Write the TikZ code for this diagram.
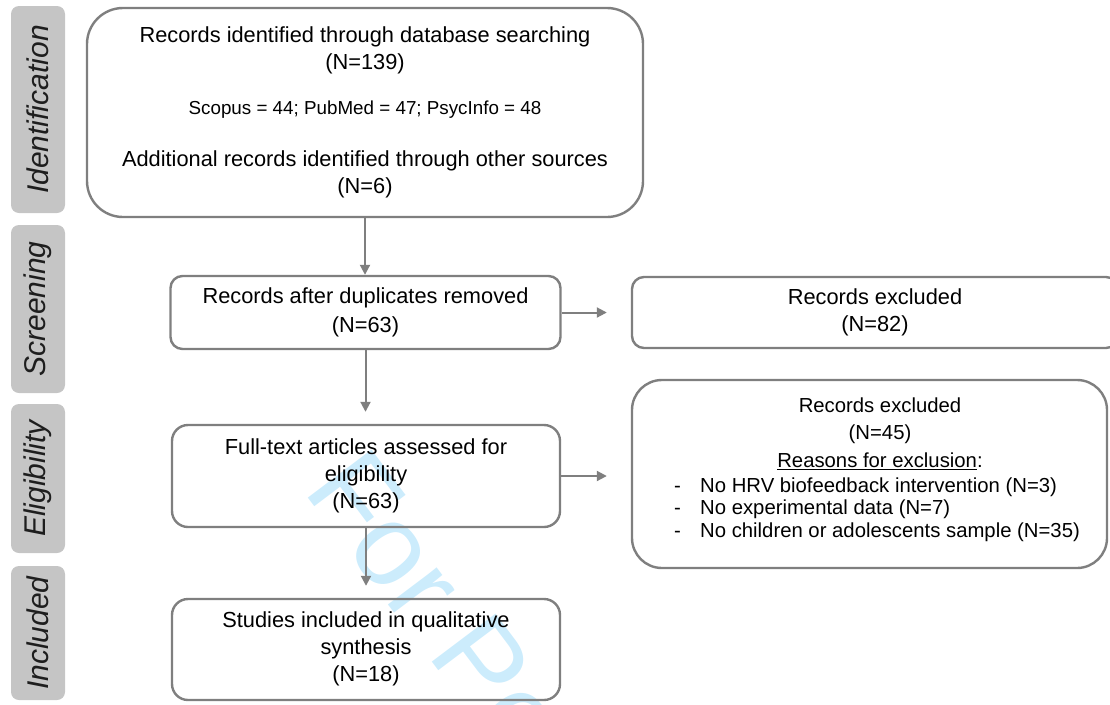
\documentclass[tikz,border=0pt]{standalone}
\usepackage{fontspec}
\setmainfont{Liberation Sans}
\usetikzlibrary{arrows.meta}
\definecolor{bordergray}{RGB}{127,127,127}
\definecolor{tabgray}{RGB}{197,197,197}
\definecolor{tabtext}{RGB}{30,30,30}
\definecolor{wmblue}{RGB}{204,236,252}
\newcommand{\mainsz}{\fontsize{21.8}{27}\selectfont}
\newcommand{\scopsz}{\fontsize{18.8}{27}\selectfont}
\newcommand{\hdrsz}{\fontsize{20.3}{27.5}\selectfont}
\newcommand{\lstsz}{\fontsize{20.3}{22.7}\selectfont}
\begin{document}
\begin{tikzpicture}[x=1pt,y=-1pt,
  box/.style={draw=bordergray, line width=2.4pt, rounded corners=#1, inner sep=0pt, align=center, font=\mainsz},
  tab/.style={fill=tabgray, draw=none, rounded corners=8pt, inner sep=0pt, rotate=90, minimum height=54pt, font=\fontsize{30}{36}\selectfont\itshape, text=tabtext},
  arr/.style={draw=bordergray, line width=2pt, -{Triangle[length=10pt,width=10pt]}}
]
\useasboundingbox (0,0) rectangle (1110,704);
\begin{scope}
\clip (0,0) rectangle (1110,704);
% watermark
\node[rotate=-53, anchor=base west, text=wmblue, inner sep=0pt, font=\fontsize{116}{116}\selectfont] (wm) at (302,490) {For Peer Review};

% stage tabs
\node[tab, minimum width=207pt] (t1) at (38,109.5) {Identification};
\node[tab, minimum width=168pt] (t2) at (38,309) {Screening};
\node[tab, minimum width=149pt] (t3) at (38,478.5) {Eligibility};
\node[tab, minimum width=134pt] (t4) at (38,633) {Included};

% boxes
\node[box=36pt, minimum width=556pt, minimum height=209pt] (b1) at (365,112.5)
 {\strut Records identified through database searching\\
  \strut (N=139)\\[18pt]
  {\scopsz\strut Scopus = 44; PubMed = 47; PsycInfo = 48}\\[25pt]
  \strut Additional records identified through other sources\\
  \strut (N=6)};
\node[box=12pt, minimum width=390pt, minimum height=73pt] (b2) at (365.5,312.5)
 {\strut Records after duplicates removed\\[2pt] \strut (N=63)};
\node[box=12pt, minimum width=486pt, minimum height=71pt] (b3) at (875,312.5)
 {\strut Records excluded\\ \strut (N=82)};
\node[box=30pt, minimum width=475pt, minimum height=188pt] (b4) at (869.5,474) {};
\node[anchor=north, align=center, inner sep=0pt, font=\hdrsz] (b4h) at (880,393)
 {\strut Records excluded\\ \strut (N=45)\\ \strut\underline{Reasons for exclusion}:};
\node[anchor=north west, align=left, inner sep=0pt, font=\lstsz] (b4l) at (674,476)
 {\strut\makebox[26pt][l]{-}No HRV biofeedback intervention (N=3)\\
  \strut\makebox[26pt][l]{-}No experimental data (N=7)\\
  \strut\makebox[26pt][l]{-}No children or adolescents sample (N=35)};
\node[box=16pt, minimum width=388pt, minimum height=102pt] (b5) at (366,476)
 {\strut Full-text articles assessed for\\ \strut eligibility\\ \strut (N=63)};
\node[box=16pt, minimum width=388pt, minimum height=101pt] (b6) at (366,649.5)
 {\strut Studies included in qualitative\\ \strut synthesis\\ \strut (N=18)};

% connectors
\draw[arr] (b1.south) -- (b1.south |- b2.north);
\draw[arr, shorten >=12pt] (b2.south) -- (b2.south |- b5.north);
\draw[arr, shorten >=12pt] (b5.south) -- (b5.south |- b6.north);
\draw[arr, shorten >=24pt] (b2.east) -- (b2.east -| b3.west);
\draw[arr, shorten >=24pt] (b5.east) -- (b5.east -| b4.west);
\end{scope}
\end{tikzpicture}
\end{document}
